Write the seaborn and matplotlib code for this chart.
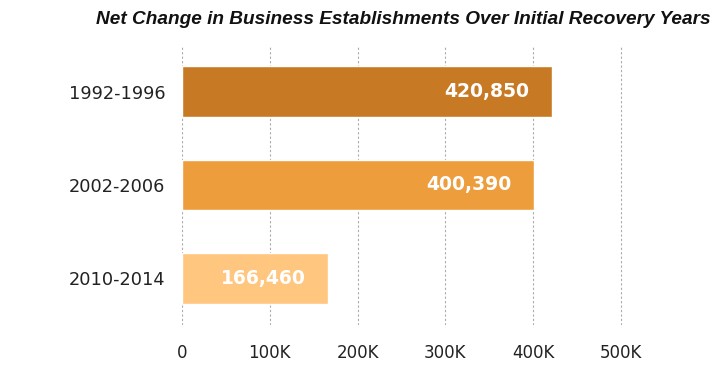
import matplotlib
matplotlib.use("Agg")
import matplotlib.pyplot as plt
import seaborn as sns
import pandas as pd

periods = ["1992-1996", "2002-2006", "2010-2014"]
net_change = [420850, 400390, 166460]
bar_colors = ["#C87923", "#EE9D3D", "#FFC67F"]
x_ticks = [0, 100000, 200000, 300000, 400000, 500000]
x_tick_labels = ["0", "100K", "200K", "300K", "400K", "500K"]

df = pd.DataFrame({"period": periods, "change": net_change})

sns.set_style("white")
plt.rcParams["font.family"] = ["DejaVu Sans"]

fig = plt.figure(figsize=(7.21, 3.68), dpi=100)
ax = fig.add_axes([0.2524, 0.1168, 0.615, 0.761])

sns.barplot(data=df, x="change", y="period", hue="period", palette=bar_colors,
            legend=False, width=0.54, saturation=1, ax=ax, zorder=3)

ax.set_xlim(0, 505000)
ax.set_ylim(2.5, -0.5)
ax.set_xticks(x_ticks)
ax.set_xticklabels(x_tick_labels)
ax.set_xlabel("")
ax.set_ylabel("")
ax.tick_params(axis="x", length=0, pad=14, labelsize=12, colors="#222222")
ax.tick_params(axis="y", length=0, pad=12, labelsize=12.8, colors="#222222")
for s in ax.spines.values():
    s.set_visible(False)
ax.grid(axis="x", color="#aaaaaa", linestyle=(0, (2, 2)), linewidth=0.8, zorder=0)
ax.grid(axis="y", visible=False)

for i, v in enumerate(net_change):
    ax.annotate(f"{v:,}", xy=(v, i), xytext=(-16, 0), textcoords="offset points",
                ha="right", va="center", color="white", fontsize=13.5,
                fontweight="bold", zorder=4)

fig.text(0.986, 0.948, "Net Change in Business Establishments Over Initial Recovery Years",
         ha="right", va="center", fontsize=13.7, fontweight="bold", fontstyle="italic",
         family="Liberation Sans", color="#111111")

fig.savefig("out.png", dpi=100, facecolor="white")
